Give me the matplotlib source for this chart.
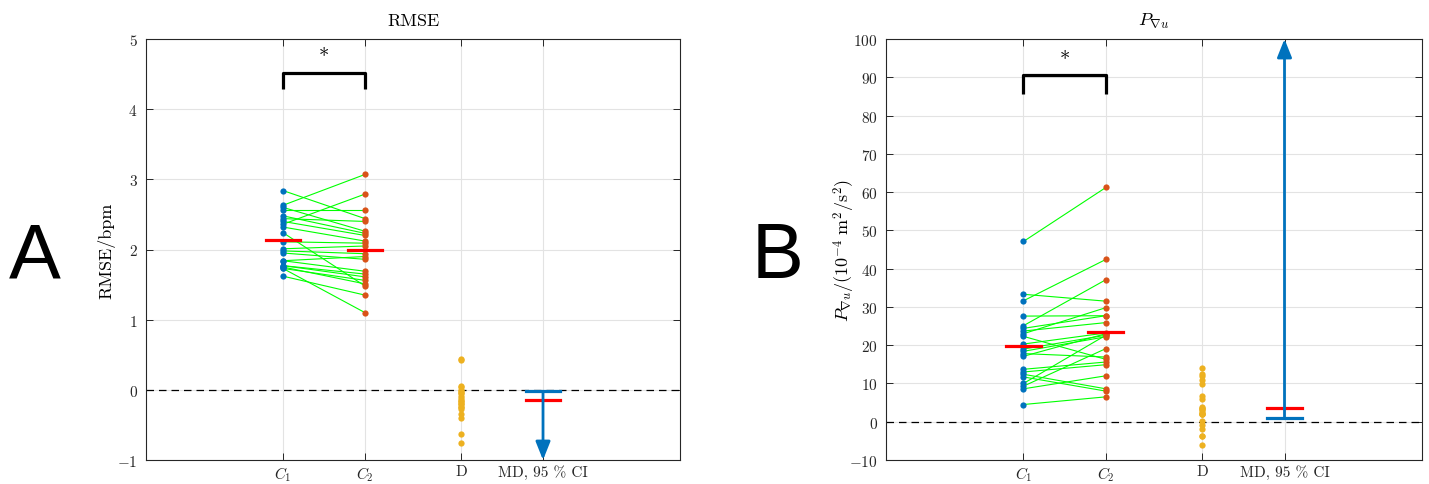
import numpy as np
import matplotlib
matplotlib.use('Agg')
import matplotlib.pyplot as plt

plt.rcParams['font.family'] = 'serif'
plt.rcParams['font.serif'] = ['cmr10']
plt.rcParams['mathtext.fontset'] = 'cm'
plt.rcParams['axes.formatter.use_mathtext'] = True
plt.rcParams['axes.unicode_minus'] = True

BLUE = (0, 0.447, 0.741)
ORANGE = (0.85, 0.325, 0.098)
YELLOW = (0.929, 0.694, 0.125)
GREEN = (0, 1, 0)

# RMSE per subject, same index = same subject in both conditions
rmse_c1 = [2.84, 2.63, 2.60, 2.56, 2.48, 2.44, 2.40, 2.36, 2.32, 2.24, 2.11,
           2.01, 1.98, 1.95, 1.84, 1.84, 1.77, 1.77, 1.75, 1.73, 1.73, 1.62]
rmse_c2 = [2.44, 3.07, 2.26, 2.56, 2.23, 2.40, 2.20, 2.79, 2.12, 1.48, 2.09,
           2.05, 1.94, 1.86, 1.90, 1.69, 1.65, 1.61, 1.51, 1.56, 1.10, 1.35]
rmse_ci = -0.02   # one-sided 95 % bound of the mean difference

# P_grad_u per subject (1e-4 m^2/s^2)
p_c1 = [47.1, 33.3, 31.6, 27.6, 25.1, 24.4, 23.7, 23.0, 22.3, 20.3, 19.0,
        18.4, 17.8, 17.1, 13.7, 13.0, 12.4, 11.7, 10.0, 9.3, 8.6, 4.5]
p_c2 = [61.2, 31.5, 42.4, 27.7, 37.1, 27.7, 25.9, 29.8, 16.3, 23.2, 22.6,
        22.2, 16.9, 23.0, 15.6, 14.9, 8.6, 8.0, 22.6, 19.1, 12.0, 6.5]
p_ci = 1.0

tick_labels = ['$C_1$', '$C_2$', 'D', 'MD, 95 % CI']
pos = [1, 2, 3.17, 4.17]
hw = 0.213  # half width of the mean / CI bars


def panel(ax, c1, c2, ci, ylim, yticks, brk, title, ylabel, label_x):
    c1 = np.array(c1)
    c2 = np.array(c2)
    d = c2 - c1
    md = d.mean()

    ax.axhline(0, color='k', ls=(0, (6, 4)), lw=0.9, zorder=1)

    for a, b in zip(c1, c2):
        ax.plot([pos[0], pos[1]], [a, b], color=GREEN, lw=0.8, zorder=2)
    ax.plot(np.full(len(c1), pos[0]), c1, 'o', color=BLUE, ms=4.5, mec='none', zorder=3)
    ax.plot(np.full(len(c2), pos[1]), c2, 'o', color=ORANGE, ms=4.5, mec='none', zorder=3)
    ax.plot(np.full(len(d), pos[2]), d, 'o', color=YELLOW, ms=4.5, mec='none', zorder=3)

    for x, m in [(pos[0], c1.mean()), (pos[1], c2.mean()), (pos[3], md)]:
        ax.plot([x - hw, x + hw], [m, m], color='r', lw=2.3, zorder=4)

    # one-sided confidence interval, open towards the axis limit
    end = ylim[0] if md < ci else ylim[1]
    ax.plot([pos[3] - hw, pos[3] + hw], [ci, ci], color=BLUE, lw=2.3, zorder=4)
    ax.annotate('', xy=(pos[3], end), xytext=(pos[3], ci),
                arrowprops=dict(arrowstyle='-|>,head_length=0.55,head_width=0.22',
                                color=BLUE, lw=2, mutation_scale=20,
                                shrinkA=0, shrinkB=0), zorder=5)

    # significance bracket
    top, leg, star = brk
    ax.plot([pos[0], pos[0], pos[1], pos[1]], [leg, top, top, leg],
            color='k', lw=2.3, solid_capstyle='butt', zorder=4)
    ax.text((pos[0] + pos[1]) / 2, star, '*', ha='center', va='center', fontsize=15)

    ax.set_xlim(-0.67, 5.84)
    ax.set_ylim(*ylim)
    ax.set_yticks(yticks)
    ax.set_xticks(pos)
    ax.set_xticklabels(tick_labels)
    ax.grid(True, color='#e3e3e3', lw=0.8)
    ax.set_axisbelow(True)
    ax.tick_params(direction='in', length=5, width=0.7, top=True, right=True,
                   labelsize=11, colors='#262626', pad=6)
    ax.tick_params(axis='x', pad=3)
    for s in ax.spines.values():
        s.set_color('#262626')
        s.set_linewidth(0.8)
    ax.set_title(title, fontsize=13, pad=10)
    ax.set_ylabel(ylabel, fontsize=13)
    ax.yaxis.set_label_coords(label_x, 0.5)


fig = plt.figure(figsize=(14.29, 4.85), dpi=100)
ax1 = fig.add_axes([146 / 1429, 24 / 485, 534 / 1429, 421 / 485])
ax2 = fig.add_axes([886 / 1429, 24 / 485, 536 / 1429, 421 / 485])

panel(ax1, rmse_c1, rmse_c2, rmse_ci, (-1, 5), np.arange(-1, 6, 1),
      (4.51, 4.29, 4.74), 'RMSE', 'RMSE/bpm', -0.057)
panel(ax2, p_c1, p_c2, p_ci, (-10, 100), np.arange(-10, 101, 10),
      (90.5, 85.5, 94.5), r'$P_{\nabla u}$',
      r'$P_{\nabla u}/(10^{-4}\ \mathrm{m}^2/\mathrm{s}^2)$', -0.054)

fig.text(35 / 1429, 1 - 258 / 485, 'A', fontsize=56, family='Liberation Sans',
         ha='center', va='center')
fig.text(778 / 1429, 1 - 258 / 485, 'B', fontsize=56, family='Liberation Sans',
         ha='center', va='center')

fig.savefig('out.png', dpi=100)
